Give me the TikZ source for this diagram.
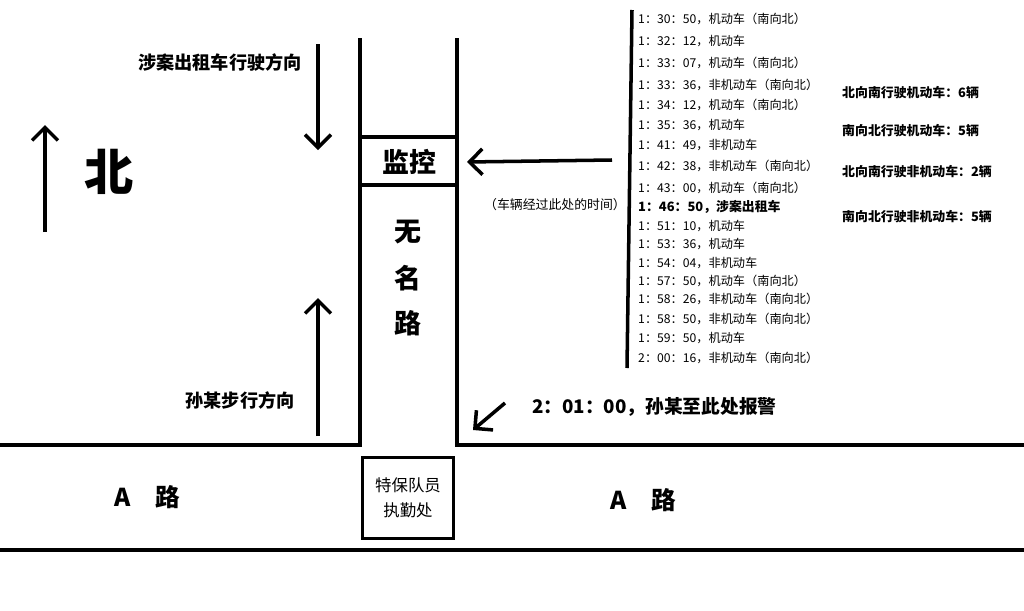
\documentclass[tikz,border=0pt]{standalone}
\usepackage{fontspec}
\setmainfont{Noto Sans CJK SC}
\usetikzlibrary{positioning,arrows.meta}

\begin{document}
\begin{tikzpicture}[x=0.03cm, y=-0.03cm,
    road/.style={line width=3.5pt},
    arrow/.style={-{Straight Barb[length=11pt,width=22pt]}, line width=3pt},
    item/.style={anchor=west, font=\fontsize{10.4}{11}\selectfont, inner sep=0pt},
    count/.style={anchor=west, font=\fontsize{11}{13}\selectfont\bfseries, inner sep=0pt},
    label/.style={font=\fontsize{15.5}{17}\selectfont\bfseries},
    big/.style={font=\fontsize{23}{25}\selectfont\bfseries}
]
\useasboundingbox (0,0) rectangle (1024,611);

% Roads
\draw[road] (360,38) -- (360,445) -- (0,445);
\draw[road] (457,38) -- (457,445) -- (1024,445);
\draw[road] (0,550) -- (1024,550);
\draw[road] (360,137) -- (457,137);
\draw[road] (360,185) -- (457,185);
\node[big] (cam) at (409,162) {监控};
\node[big] (r1) at (408,232) {无};
\node[big] (r2) at (408,278) {名};
\node[big] (r3) at (408,323) {路};
\node[draw, line width=2.5pt, minimum width=2.75cm, minimum height=2.45cm, align=center,
      font=\fontsize{14}{21}\selectfont] (guard) at (408,498) {特保队员\\执勤处};
\node[font=\fontsize{21}{23}\selectfont\bfseries] (ra) at (147,497) {A\quad 路};
\node[font=\fontsize{21}{23}\selectfont\bfseries] (rb) at (643,500) {A\quad 路};

% North
\coordinate (n0) at (45,232);
\coordinate (n1) at (45,125);
\draw[arrow] (n0) -- (n1);
\node[font=\fontsize{42}{44}\selectfont\bfseries] (north) at (109,172) {北};

% Directions
\coordinate (t0) at (318,44);
\coordinate (t1) at (318,150);
\draw[arrow] (t0) -- (t1);
\node[label] (taxi) at (220,62) {涉案出租车行驶方向};
\coordinate (s0) at (318,436);
\coordinate (s1) at (318,298);
\draw[arrow] (s0) -- (s1);
\node[label] (sun) at (240,400) {孙某步行方向};

% Alarm
\coordinate (p0) at (505,403);
\coordinate (p1) at (473,430);
\draw[arrow] (p0) -- (p1);
\node[font=\fontsize{16}{18}\selectfont\bfseries, anchor=west] (alarm) at (528,407) {2：01：00，孙某至此处报警};

% Time list
\coordinate (b0) at (632,10);
\coordinate (b1) at (627,368);
\coordinate (bm) at (612,160);
\draw[line width=3pt] (b0) -- (b1);
\draw[arrow] (bm) -- (cam.east -| 467,0);
\node[font=\fontsize{11}{12}\selectfont] (note) at (555,205) {（车辆经过此处的时间）};
\foreach \t/\y in {{1：30：50，机动车（南向北）}/19, {1：32：12，机动车}/41, {1：33：07，机动车（南向北）}/63,
    {1：33：36，非机动车（南向北）}/85, {1：34：12，机动车（南向北）}/105, {1：35：36，机动车}/125,
    {1：41：49，非机动车}/145, {1：42：38，非机动车（南向北）}/166, {1：43：00，机动车（南向北）}/188,
    {1：51：10，机动车}/226, {1：53：36，机动车}/244, {1：54：04，非机动车}/263,
    {1：57：50，机动车（南向北）}/281, {1：58：26，非机动车（南向北）}/299, {1：58：50，非机动车（南向北）}/319,
    {1：59：50，机动车}/338, {2：00：16，非机动车（南向北）}/358}
  \node[item] at (638,\y) {\t};
\node[item, font=\fontsize{11}{12}\selectfont\bfseries] (case) at (638,207) {1：46：50，涉案出租车};

% Counts
\node[count] (c1) at (842,93) {北向南行驶机动车：6辆};
\node[count] (c2) at (842,131) {南向北行驶机动车：5辆};
\node[count] (c3) at (842,172) {北向南行驶非机动车：2辆};
\node[count] (c4) at (842,217) {南向北行驶非机动车：5辆};
\end{tikzpicture}
\end{document}
